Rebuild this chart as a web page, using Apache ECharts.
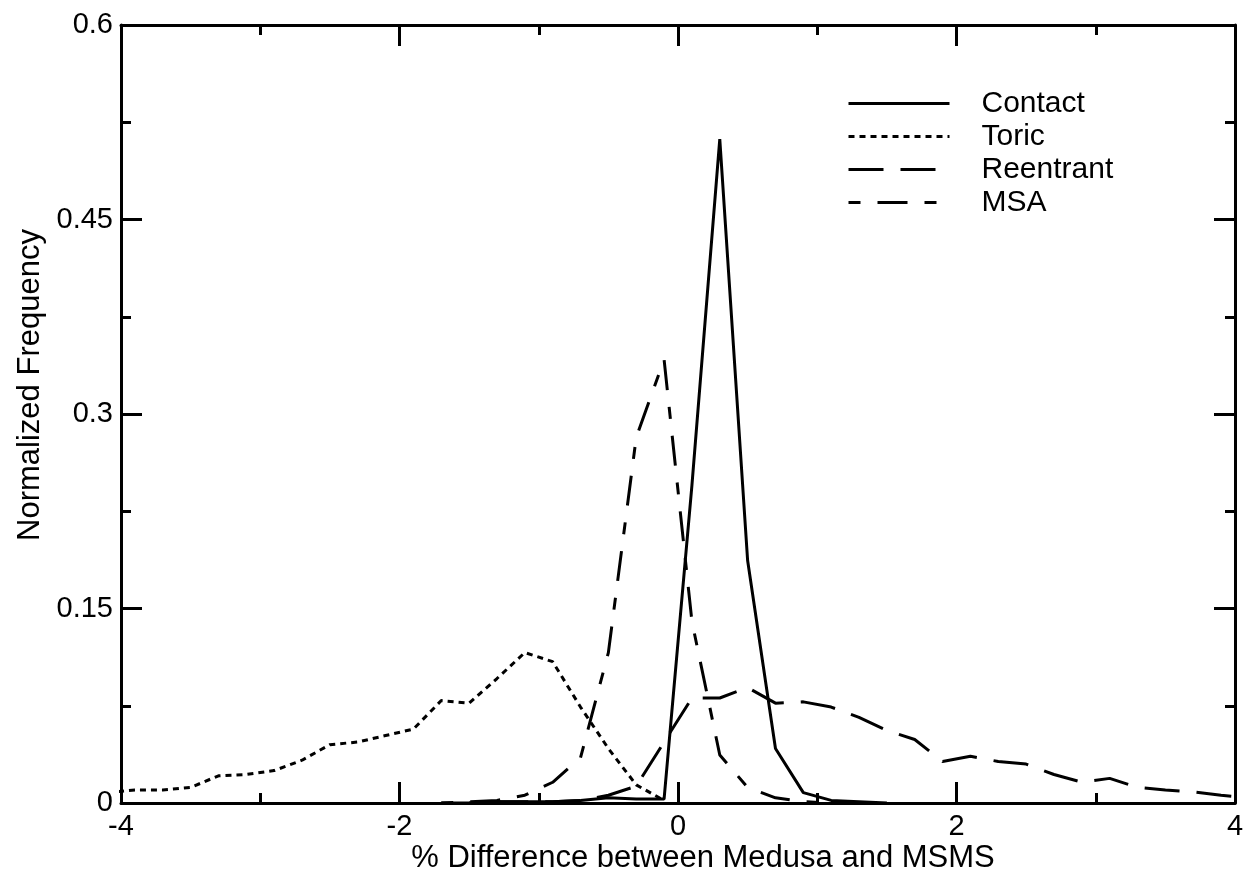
<!DOCTYPE html>
<html>
<head>
<meta charset="utf-8">
<script src="https://cdn.jsdelivr.net/npm/echarts@6/dist/echarts.min.js"></script>
<style>
html,body{margin:0;padding:0;background:#fff;}
#chart{width:1252px;height:875px;}
</style>
</head>
<body>
<div id="chart"></div>
<script>
// ---- data ----
var seriesNames = ['Contact', 'Toric', 'Reentrant', 'MSA'];

var contactX = [-1.5,-1.3,-1.1,-0.9,-0.7,-0.5,-0.3,-0.1,0.1,0.3,0.5,0.7,0.9,1.1,1.3,1.5];
var contactY = [0,0.001,0.001,0.001,0.002,0.004,0.003,0.003,0.245,0.512,0.187,0.042,0.008,0.002,0.001,0];

var toricX = [-4.1,-3.9,-3.7,-3.5,-3.3,-3.1,-2.9,-2.7,-2.5,-2.3,-2.1,-1.9,-1.7,-1.5,-1.3,-1.1,-0.9,-0.7,-0.5,-0.3,-0.1];
var toricY = [0.008,0.010,0.010,0.012,0.021,0.022,0.025,0.033,0.045,0.047,0.052,0.057,0.079,0.077,0.096,0.116,0.109,0.074,0.042,0.014,0.002];

var reentrantX = [-1.7,-1.5,-1.3,-1.1,-0.9,-0.7,-0.5,-0.3,-0.1,0.1,0.3,0.5,0.7,0.9,1.1,1.3,1.5,1.7,1.9,2.1,2.3,2.5,2.7,2.9,3.1,3.3,3.5,3.7,3.9,4.1];
var reentrantY = [0,0,0.001,0.001,0.001,0.002,0.006,0.013,0.047,0.081,0.081,0.089,0.077,0.078,0.074,0.066,0.056,0.049,0.032,0.036,0.032,0.030,0.022,0.016,0.019,0.012,0.010,0.0085,0.006,0.004];

var msaX = [-1.7,-1.5,-1.3,-1.1,-0.9,-0.7,-0.5,-0.3,-0.1,0.1,0.3,0.5,0.7,0.9,1.1];
var msaY = [0,0.001,0.002,0.006,0.016,0.035,0.116,0.282,0.342,0.140,0.037,0.012,0.004,0.001,0];

var xTicks = [-4,-2,0,2,4];
var yTicks = [0,0.15,0.3,0.45,0.6];
var xTitle = '% Difference between Medusa and MSMS';
var yTitle = 'Normalized Frequency';

// ---- build ----
function pairs(xs, ys){ return xs.map(function(x,i){ return [x, ys[i]]; }); }

var FONT = '"Liberation Sans", Arial, Helvetica, sans-serif';
var FS = 29;
var TFS = 31;
var LFS = 30;

var chart = echarts.init(document.getElementById('chart'), null, {renderer:'canvas'});

function axisCommon(showLabels, pos){
  return {
    axisLine:{show:true, onZero:false, lineStyle:{color:'#000', width:3}},
    axisTick:{show:true, inside:true, length:21, lineStyle:{color:'#000', width:3}},
    minorTick:{show:true, splitNumber:2, length:10, lineStyle:{color:'#000', width:3}},
    splitLine:{show:false},
    minorSplitLine:{show:false},
    axisLabel:{show:showLabels, color:'#000', fontSize:FS, fontFamily:FONT, margin:9},
    position: pos
  };
}

var xMin = xTicks[0], xMax = xTicks[xTicks.length-1], xInt = xTicks[1]-xTicks[0];
var yMin = yTicks[0], yMax = yTicks[yTicks.length-1], yInt = yTicks[1]-yTicks[0];

var xAxes = [
  Object.assign({type:'value', min:xMin, max:xMax, interval:xInt, gridIndex:0}, axisCommon(true,'bottom')),
  Object.assign({type:'value', min:xMin, max:xMax, interval:xInt, gridIndex:0}, axisCommon(false,'top'))
];
xAxes[0].axisLabel.formatter = function(v){ return String(v); };
var yAxes = [
  Object.assign({type:'value', min:yMin, max:yMax, interval:yInt, gridIndex:0}, axisCommon(true,'left')),
  Object.assign({type:'value', min:yMin, max:yMax, interval:yInt, gridIndex:0}, axisCommon(false,'right'))
];
yAxes[0].axisLabel.margin = 8;
yAxes[0].axisLabel.formatter = function(v){ return String(Math.round(v*100)/100); };

function lineSeries(name, xs, ys, dash){
  return {
    name:name, type:'line', xAxisIndex:0, yAxisIndex:0,
    data:pairs(xs, ys), symbol:'none', showSymbol:false, smooth:false, clip:true,
    lineStyle:{color:'#000', width:3, type:dash, cap:'butt'},
    itemStyle:{color:'#000'},
    emphasis:{disabled:true}
  };
}

var option = {
  animation:false,
  backgroundColor:'#fff',
  textStyle:{fontFamily:FONT},
  grid:{left:121, right:17, top:25, bottom:72, containLabel:false},
  xAxis:xAxes,
  yAxis:yAxes,
  legend:{
    orient:'vertical', left:842, top:83,
    itemWidth:101, itemHeight:12, itemGap:2,
    itemStyle:{opacity:0},
    lineStyle:{width:3, color:'#000'},
    textStyle:{color:'#000', fontSize:LFS, fontFamily:FONT, lineHeight:31, padding:[0,0,0,27]},
    data:seriesNames,
    selectedMode:false
  },
  graphic:[
    {type:'text', x:703, y:858, style:{text:xTitle, font:TFS+'px '+FONT, fill:'#000', textAlign:'center', textVerticalAlign:'middle'}},
    {type:'text', x:30, y:385, rotation:Math.PI/2, style:{text:yTitle, font:TFS+'px '+FONT, fill:'#000', textAlign:'center', textVerticalAlign:'middle'}}
  ],
  series:[
    lineSeries(seriesNames[0], contactX, contactY, 'solid'),
    lineSeries(seriesNames[1], toricX, toricY, [6,5]),
    lineSeries(seriesNames[2], reentrantX, reentrantY, [35,17]),
    lineSeries(seriesNames[3], msaX, msaY, [12,17,30,17])
  ]
};
chart.setOption(option);
</script>
</body>
</html>
